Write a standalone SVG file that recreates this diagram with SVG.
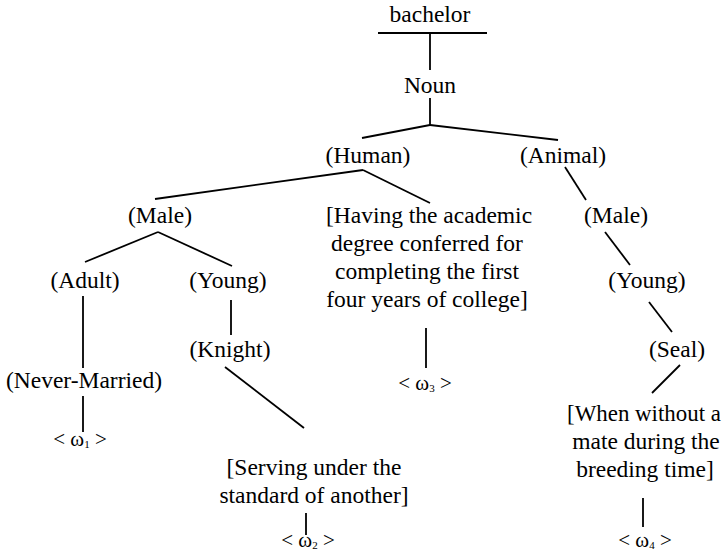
<svg xmlns="http://www.w3.org/2000/svg" width="725" height="553" viewBox="0 0 725 553">
<style>
text{font-family:"Liberation Serif","Times New Roman",serif;font-size:23.5px;fill:#000;text-anchor:middle}
.w{font-size:21px}
.s{font-size:11px}
line{stroke:#000;stroke-width:1.8;fill:none}
</style>
<rect width="725" height="553" fill="#fff"/>
<g id="connectors">
<line x1="378" y1="33" x2="487" y2="33"/>
<line x1="430" y1="33" x2="430" y2="70"/>
<line x1="430" y1="98" x2="430" y2="125"/>
<line x1="430" y1="125" x2="362" y2="138"/>
<line x1="430" y1="125" x2="558" y2="140"/>
<line x1="363" y1="170" x2="155" y2="199"/>
<line x1="363" y1="170" x2="430" y2="203"/>
<line x1="158" y1="232" x2="85" y2="262"/>
<line x1="158" y1="232" x2="232" y2="266"/>
<line x1="83" y1="296" x2="83" y2="368"/>
<line x1="83" y1="396" x2="83" y2="432"/>
<line x1="231" y1="300" x2="231" y2="335"/>
<line x1="225" y1="367" x2="304" y2="428"/>
<line x1="306" y1="513" x2="306" y2="535"/>
<line x1="426" y1="328" x2="426" y2="368"/>
<line x1="565" y1="167" x2="586" y2="200"/>
<line x1="605" y1="232" x2="630" y2="265"/>
<line x1="649" y1="302" x2="672" y2="332"/>
<line x1="680" y1="365" x2="652" y2="393"/>
<line x1="643" y1="498" x2="643" y2="527"/>
</g>
<g id="bachelor"><text x="430" y="22">bachelor</text></g>
<g id="noun"><text x="430" y="93">Noun</text></g>
<g id="human"><text x="368" y="163">(Human)</text></g>
<g id="animal"><text x="563" y="163">(Animal)</text></g>
<g id="male1"><text x="160" y="223">(Male)</text></g>
<g id="having"><text x="429" y="223">[Having the academic</text><text x="427" y="251">degree conferred for</text><text x="427" y="279">completing the first</text><text x="427" y="307">four years of college]</text></g>
<g id="male2"><text x="616" y="223">(Male)</text></g>
<g id="adult"><text x="85" y="288">(Adult)</text></g>
<g id="young1"><text x="228" y="288">(Young)</text></g>
<g id="young2"><text x="647" y="288">(Young)</text></g>
<g id="knight"><text x="230" y="357">(Knight)</text></g>
<g id="seal"><text x="677" y="357">(Seal)</text></g>
<g id="nevermarried"><text x="84" y="388">(Never-Married)</text></g>
<g id="w3"><text class="w" x="425" y="390">&lt; ω<tspan class="s" dy="2">3</tspan><tspan dy="-2"> &gt;</tspan></text></g>
<g id="w1"><text class="w" x="80" y="446">&lt; ω<tspan class="s" dy="2">1</tspan><tspan dy="-2"> &gt;</tspan></text></g>
<g id="serving"><text x="314" y="475">[Serving under the</text><text x="314" y="503">standard of another]</text></g>
<g id="when"><text x="567" y="421" style="text-anchor:start" textLength="154" lengthAdjust="spacingAndGlyphs">[When without a</text><text x="646" y="449">mate during the</text><text x="645" y="477">breeding time]</text></g>
<g id="w2"><text class="w" x="308" y="547">&lt; ω<tspan class="s" dy="2">2</tspan><tspan dy="-2"> &gt;</tspan></text></g>
<g id="w4"><text class="w" x="645" y="547">&lt; ω<tspan class="s" dy="2">4</tspan><tspan dy="-2"> &gt;</tspan></text></g>
</svg>
